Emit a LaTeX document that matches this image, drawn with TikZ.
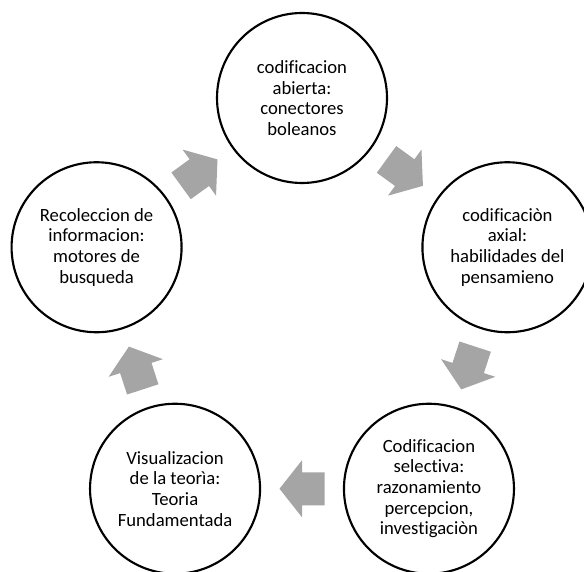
\documentclass[tikz,border=0pt]{standalone}
\usepackage{fontspec}
\setmainfont{Carlito}[Ligatures=NoCommon]
\usepackage{tikz}
\usetikzlibrary{calc}
\definecolor{flow}{HTML}{A5A5A5}

\begin{document}
\begin{tikzpicture}[x=0.75pt, y=0.75pt,
        every node/.style={font=\fontsize{14}{15.5}\selectfont},
        stage/.style={circle, draw, line width=1.6pt, minimum size=127.5pt,
          inner sep=0pt, align=center},
        blockarrow/.pic={\fill[flow] (-22.5,-16.5) -- (0,-16.5) -- (0,-28.5)
          -- (22.5,0) -- (0,28.5) -- (0,16.5) -- (-22.5,16.5) -- cycle;}]
      \clip (0,0) rectangle (584,571);
      \coordinate (hub) at (302,257);
      % five stages round the hub
      \node[stage] (open) at ($(hub)+(90:216)$) {codificacion\\abierta:\\conectores\\boleanos};
      \node[stage] (axial) at ($(hub)+(18:216)$) {codificaciòn\\axial:\\habilidades del\\pensamieno};
      \node[stage] (select) at ($(hub)+(-54:216)$) {Codificacion\\selectiva:\\razonamiento\\percepcion,\\investigaciòn};
      \node[stage] (theory) at ($(hub)+(234:216)$) {Visualizacion\\de la teorìa:\\Teoria\\Fundamentada};
      \node[stage] (collect) at ($(hub)+(162:216)$) {Recoleccion de\\informacion:\\motores de\\busqueda};
      % block arrows between them
      \pic[rotate=-36] at ($(open)!0.5!(axial)$) {blockarrow};
      \pic[rotate=-108] at ($(axial)!0.5!(select)$) {blockarrow};
      \pic[rotate=180] at ($(select)!0.5!(theory)$) {blockarrow};
      \pic[rotate=108] at ($(theory)!0.5!(collect)$) {blockarrow};
      \pic[rotate=36] at ($(collect)!0.5!(open)$) {blockarrow};
    \end{tikzpicture}
\end{document}
